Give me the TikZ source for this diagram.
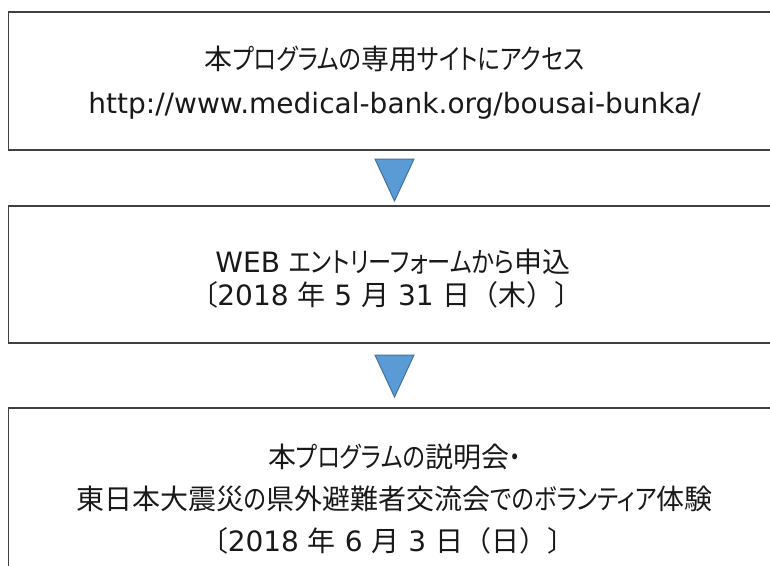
\documentclass[tikz,border=0pt]{standalone}
\usepackage{fontspec}
\setmainfont{DejaVu Sans}
\newfontfamily\jp[RawFeature=+palt]{Noto Sans CJK JP}
\newfontfamily\jk[RawFeature=+palt, FakeStretch=0.83]{Noto Sans CJK JP}
\newfontfamily\jpw{Noto Sans CJK JP}
\definecolor{boxline}{RGB}{64,64,64}
\definecolor{trifill}{RGB}{91,155,213}
\definecolor{triline}{RGB}{65,113,156}
\tikzset{
  stepbox/.style={draw=boxline, line width=1.5pt, fill=none, inner sep=0pt},
  txt/.style={anchor=base, inner sep=0pt, font=\fontsize{28}{32}\selectfont, text=black!90},
  tri/.style={fill=trifill, draw=triline, line width=1pt, line join=miter}
}
\begin{document}
\begin{tikzpicture}[x=1pt,y=-1pt]
\useasboundingbox (0,0) rectangle (770,565);
% boxes
\node[stepbox, minimum width=771.5pt, minimum height=138pt] (b1) at (394.25,81) {};
\node[stepbox, minimum width=771.5pt, minimum height=137pt] (b2) at (394.25,274.5) {};
\node[stepbox, minimum width=771.5pt, minimum height=192pt] (b3) at (394.25,504) {};
% texts
\node[txt] (t11) at (394.5,69) {{\jp 本}{\jk プログラムの}{\jp 専用}{\jk サイトにアクセス}};
\node[txt] (t12) at (394.5,113) {http://www.medical-bank.org/bousai-bunka/};
\node[txt] (t21) at (393,272) {WEB {\jk エントリーフォームから}{\jp 申込}};
\node[txt] (t22) at (393,305) {{\jp 〔}2018 {\jp 年} 5 {\jp 月} 31 {\jp 日}{\jpw （木）〕}};
\node[txt] (t31) at (394.5,467) {{\jp 本}{\jk プログラムの}{\jp 説明会}{\jk ・}};
\node[txt] (t32) at (394.5,509) {{\jp 東日本大震災}{\jk の}{\jp 県外避難者交流会}{\jk でのボランティア}{\jp 体験}};
\node[txt] (t33) at (394.5,551) {{\jp 〔}2018 {\jp 年} 6 {\jp 月} 3 {\jp 日}{\jpw （日）〕}};
% arrows (triangles)
\coordinate (a1l) at (375,159); \coordinate (a1r) at (414,159); \coordinate (a1b) at (394.5,201);
\coordinate (a2l) at (375,355); \coordinate (a2r) at (414,355); \coordinate (a2b) at (394.5,397);
\draw[tri] (a1l) -- (a1r) -- (a1b) -- cycle;
\draw[tri] (a2l) -- (a2r) -- (a2b) -- cycle;
\end{tikzpicture}
\end{document}
